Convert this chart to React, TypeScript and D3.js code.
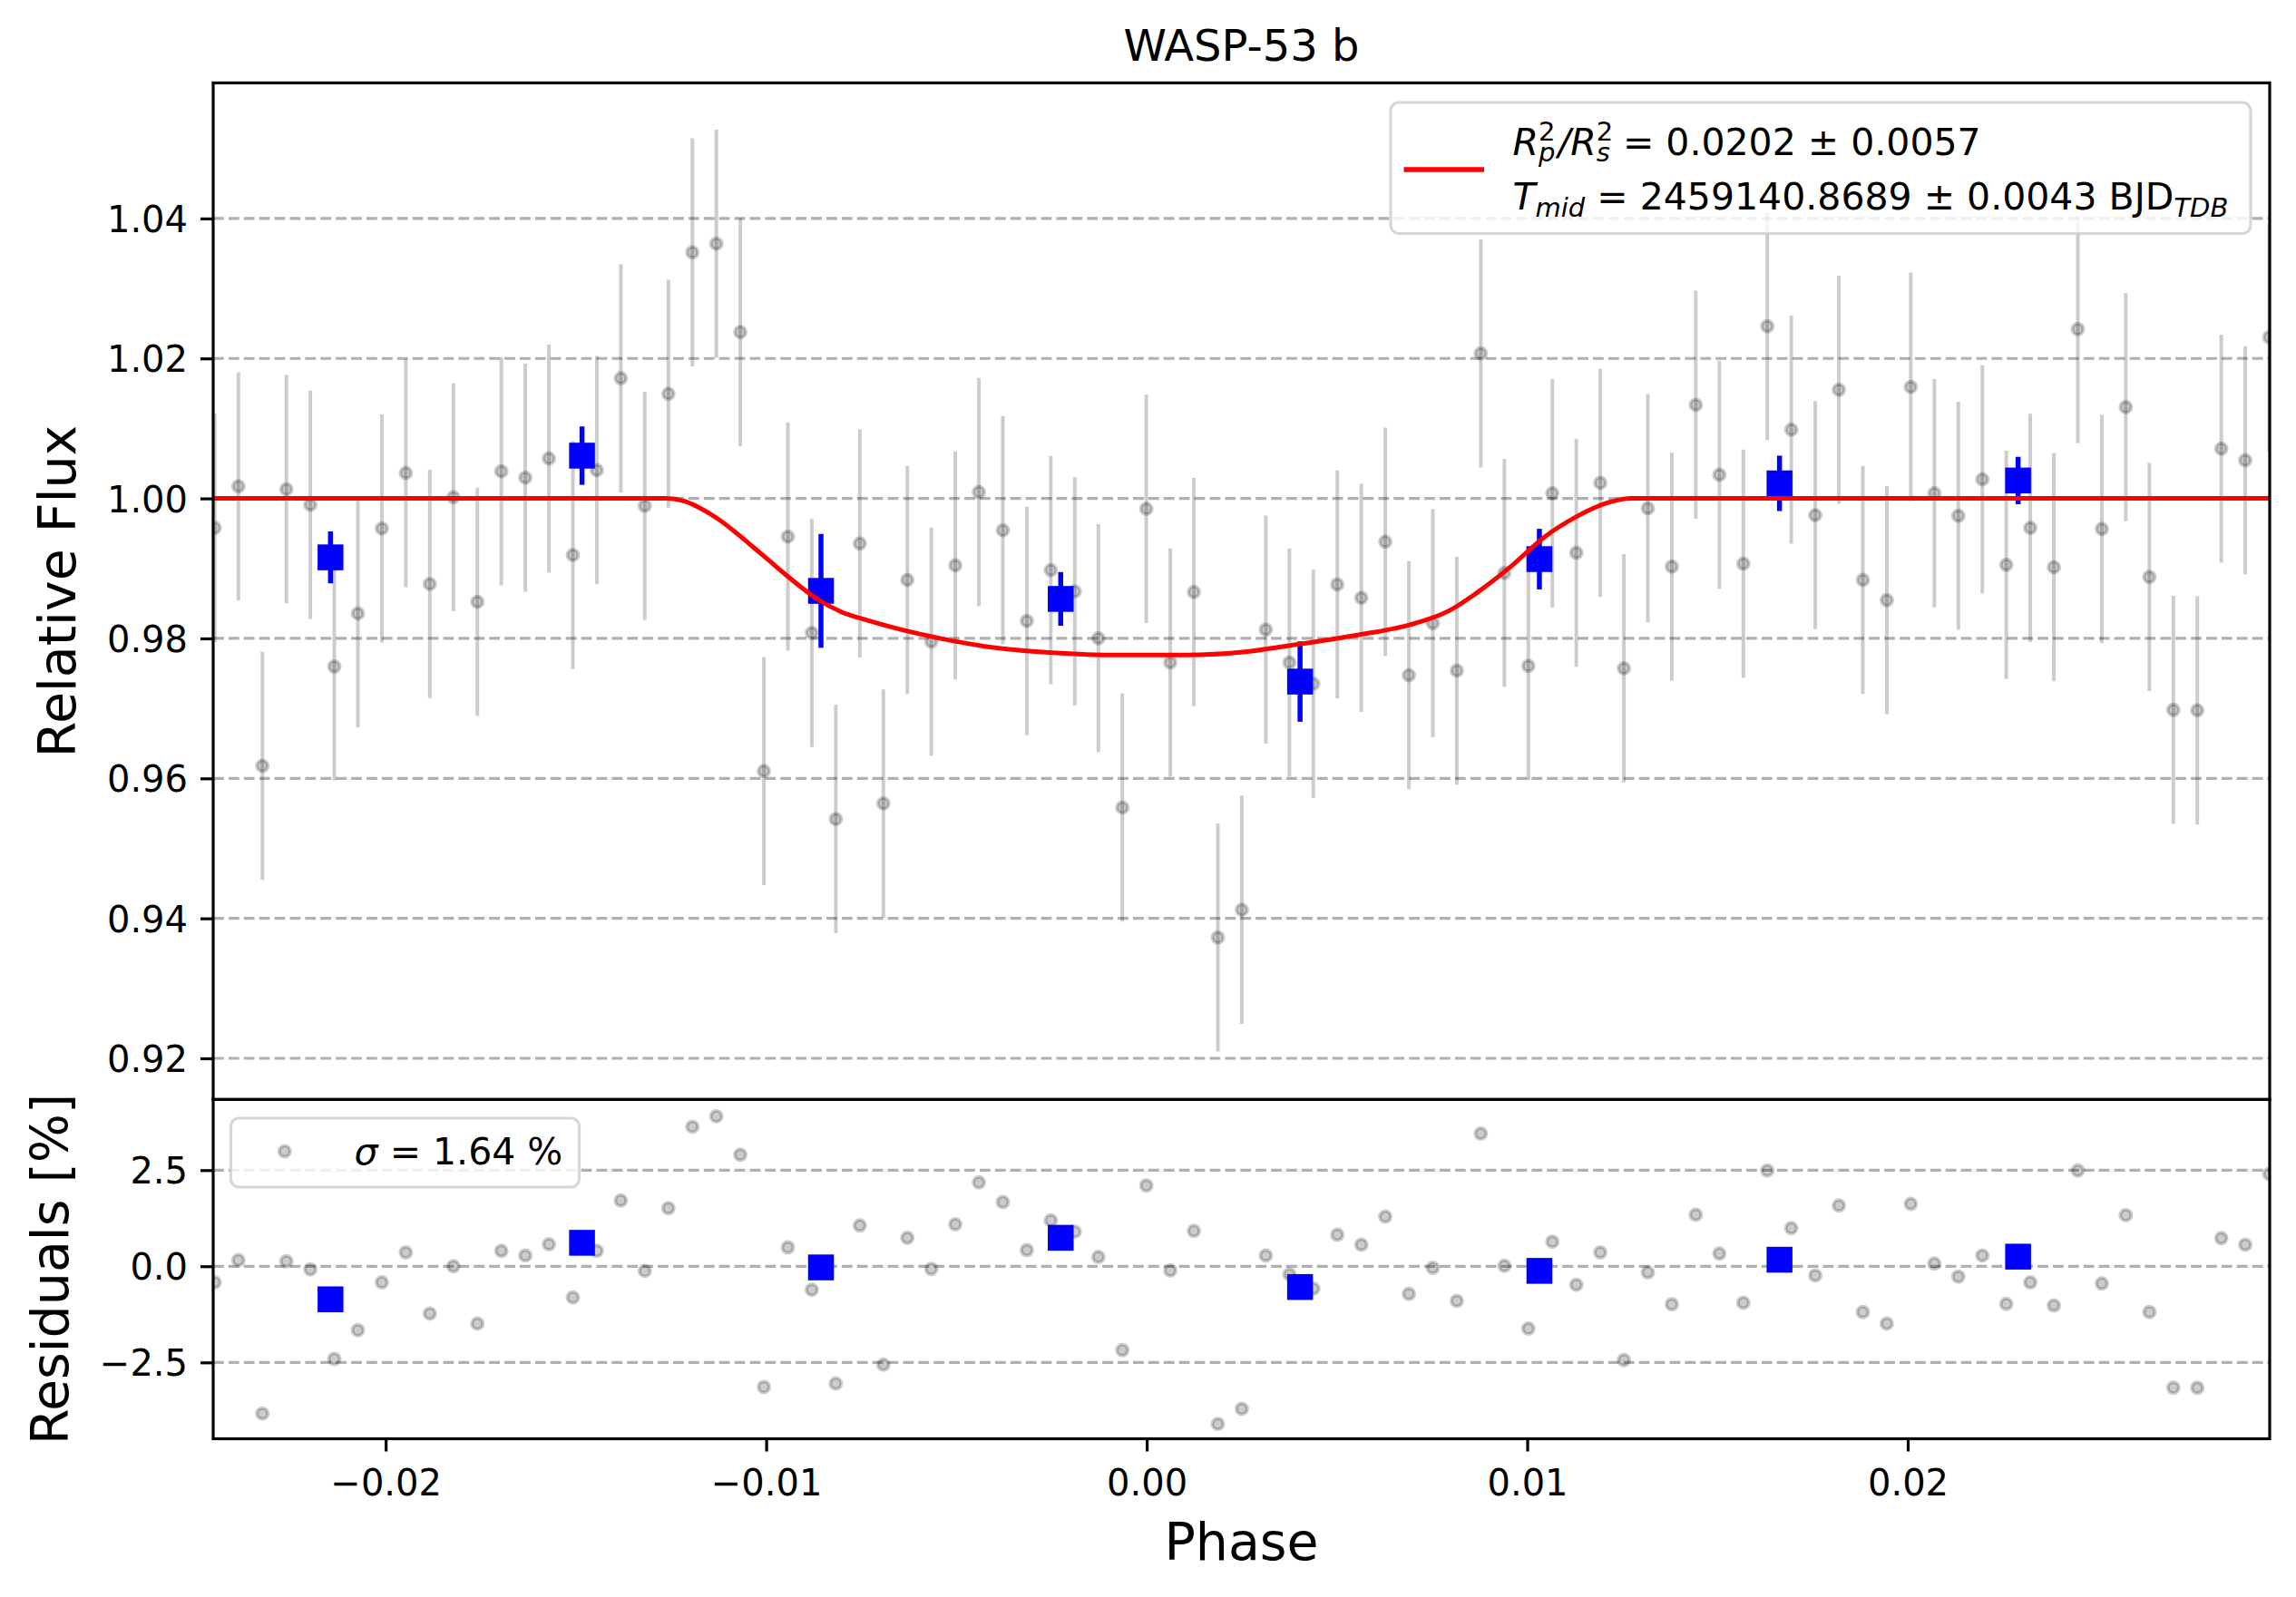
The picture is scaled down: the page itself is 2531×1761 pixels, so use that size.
import { useEffect, useRef } from 'react';
import * as d3 from 'd3';

// orbital phase of every unbinned exposure
const PHASE = [
  -0.02449, -0.02387, -0.02324, -0.02261, -0.02198, -0.02135, -0.02073, -0.0201, -0.01947, -0.01884,
  -0.01822, -0.01759, -0.01696, -0.01633, -0.01571, -0.01508, -0.01445, -0.01382, -0.01319, -0.01257,
  -0.01194, -0.01131, -0.01068, -0.01006, -0.00943, -0.0088, -0.00817, -0.00754, -0.00692, -0.00629,
  -0.00566, -0.00503, -0.00441, -0.00378, -0.00315, -0.00252, -0.00189, -0.00127, -0.00064, -0.00001,
  0.00062, 0.00124, 0.00187, 0.0025, 0.00313, 0.00375, 0.00438, 0.00501, 0.00564, 0.00627,
  0.00689, 0.00752, 0.00815, 0.00878, 0.0094, 0.01003, 0.01066, 0.01129, 0.01192, 0.01254,
  0.01317, 0.0138, 0.01443, 0.01505, 0.01568, 0.01631, 0.01694, 0.01757, 0.01819, 0.01882,
  0.01945, 0.02008, 0.0207, 0.02133, 0.02196, 0.02259, 0.02322, 0.02384, 0.02447, 0.0251,
  0.02573, 0.02635, 0.02698, 0.02761, 0.02824, 0.02887, 0.0295,
];

const FLUX = [
  0.99579, 1.00173, 0.96178, 1.00132, 0.99909, 0.97598, 0.98357, 0.99571, 1.00363, 0.98778,
  1.00017, 0.98522, 1.00388, 1.00297, 1.0057, 0.99191, 1.00404, 1.01717, 0.99893, 1.01494,
  1.03516, 1.0364, 1.02377, 0.96104, 0.99455, 0.98077, 0.95419, 0.99356, 0.95642, 0.98836,
  0.97953, 0.99043, 1.00091, 0.99546, 0.9825, 0.98976, 0.98671, 0.98002, 0.95584, 0.99851,
  0.97656, 0.98663, 0.93727, 0.94123, 0.98126, 0.97656, 0.9735, 0.9877, 0.9858, 0.99381,
  0.97474, 0.98217, 0.9754, 1.02072, 0.98935, 0.97606, 1.00074, 0.99224, 1.00223, 0.97573,
  0.9986, 0.99026, 1.01337, 1.00338, 0.99067, 1.0246, 1.00982, 0.99761, 1.01552, 0.98836,
  0.98547, 1.01593, 1.00074, 0.99752, 1.00272, 0.99051, 0.99579, 0.99018, 1.02418, 0.99563,
  1.01304, 0.98877, 0.96979, 0.96971, 1.0071, 1.00545, 1.02303,
];

const FLUX_ERR = 0.0163;

// residuals in percent
const RESID = [
  -0.42, 0.16, -3.83, 0.13, -0.08, -2.41, -1.66, -0.42, 0.36, -1.23,
  0.0, -1.49, 0.4, 0.28, 0.57, -0.81, 0.4, 1.71, -0.12, 1.51,
  3.63, 3.9, 2.9, -3.14, 0.49, -0.61, -3.05, 1.06, -2.56, 0.74,
  -0.07, 1.09, 2.18, 1.67, 0.42, 1.19, 0.9, 0.24, -2.18, 2.1,
  -0.11, 0.92, -4.1, -3.71, 0.28, -0.21, -0.58, 0.82, 0.56, 1.29,
  -0.72, -0.04, -0.9, 3.45, 0.01, -1.62, 0.64, -0.48, 0.36, -2.44,
  -0.16, -0.99, 1.34, 0.33, -0.95, 2.49, 0.99, -0.24, 1.58, -1.19,
  -1.49, 1.62, 0.07, -0.27, 0.28, -0.98, -0.42, -1.02, 2.49, -0.45,
  1.33, -1.19, -3.16, -3.16, 0.73, 0.56, 2.4,
];

// binned points (blue)
const BIN_PHASE = [-0.02145, -0.01484, -0.00856, -0.00226, 0.00403, 0.01032, 0.01663, 0.0229];
const BIN_FLUX = [0.99158, 1.00611, 0.98679, 0.98564, 0.97383, 0.99133, 1.00215, 1.00256];
const BIN_ERR = [0.00371, 0.00417, 0.00813, 0.00384, 0.00574, 0.00433, 0.00396, 0.00338];
const BIN_RESID = [-0.86, 0.61, -0.03, 0.74, -0.54, -0.12, 0.17, 0.25];

// transit model
const MODEL_PHASE = [
  -0.02453, -0.01265, -0.01215, -0.01173, -0.0113, -0.01087, -0.01042, -0.00997, -0.00953, -0.00909,
  -0.00865, -0.00804, -0.00733, -0.00601, -0.00425, -0.00248, -0.00072, 0.00105, 0.00252, 0.00381,
  0.00557, 0.0069, 0.00796, 0.00866, 0.00955, 0.01043, 0.01131, 0.01219, 0.01272, 0.02951,
];
const MODEL_FLUX = [
  1.0, 1.0, 0.9996, 0.9986, 0.9972, 0.99545, 0.9934, 0.99135, 0.9893, 0.98735,
  0.9856, 0.98382, 0.98258, 0.98069, 0.97887, 0.97796, 0.97763, 0.97763, 0.97804, 0.97903,
  0.98052, 0.98192, 0.98399, 0.98646, 0.99018, 0.99439, 0.99744, 0.9995, 1.0, 1.0,
];

const X_TICKS = [-0.02, -0.01, 0.0, 0.01, 0.02];
const FLUX_TICKS = [0.92, 0.94, 0.96, 0.98, 1.0, 1.02, 1.04];
const RESID_TICKS = [-2.5, 0.0, 2.5];

const TITLE = 'WASP-53 b';
const SIGMA_LABEL = '1.64 %';

const W = 2531;
const H = 1761;
const LEFT = 235;
const RIGHT = 2502;
const TOP = 91.4;
const MID = 1212.4;
const BOTTOM = 1586.5;
const FONT = "'DejaVu Sans', sans-serif";

export default function App() {
  const svgRef = useRef<SVGSVGElement>(null);

  useEffect(() => {
    if (!svgRef.current) return;
    document.body.style.margin = '0';
    const svg = d3.select(svgRef.current);
    svg.selectAll('*').remove();

    const x = d3.scaleLinear().domain([-0.024533, 0.029512]).range([LEFT, RIGHT]);
    const yTop = d3.scaleLinear().domain([0.91412, 1.05937]).range([MID, TOP]);
    const yRes = d3.scaleLinear().domain([-4.486, 4.337]).range([BOTTOM, MID]);

    svg.append('rect').attr('width', W).attr('height', H).attr('fill', 'white');

    const defs = svg.append('defs');
    defs.append('clipPath').attr('id', 'clip-top')
      .append('rect').attr('x', LEFT).attr('y', TOP).attr('width', RIGHT - LEFT).attr('height', MID - TOP);
    defs.append('clipPath').attr('id', 'clip-res')
      .append('rect').attr('x', LEFT).attr('y', MID).attr('width', RIGHT - LEFT).attr('height', BOTTOM - MID);

    const grid = (ticks: number[], y: d3.ScaleLinear<number, number>) => {
      svg.append('g')
        .selectAll('line')
        .data(ticks)
        .enter()
        .append('line')
        .attr('x1', LEFT)
        .attr('x2', RIGHT)
        .attr('y1', (d) => y(d))
        .attr('y2', (d) => y(d))
        .attr('stroke', '#b0b0b0')
        .attr('stroke-width', 3.2)
        .attr('stroke-dasharray', '11.8 5.1');
    };
    grid(FLUX_TICKS, yTop);
    grid(RESID_TICKS, yRes);

    // ---- top panel ----
    const top = svg.append('g').attr('clip-path', 'url(#clip-top)');
    top.append('g')
      .selectAll('line')
      .data(PHASE)
      .enter()
      .append('line')
      .attr('x1', (d) => x(d))
      .attr('x2', (d) => x(d))
      .attr('y1', (_, i) => yTop(FLUX[i] - FLUX_ERR))
      .attr('y2', (_, i) => yTop(FLUX[i] + FLUX_ERR))
      .attr('stroke', 'black')
      .attr('stroke-opacity', 0.2)
      .attr('stroke-width', 4);
    top.append('g')
      .selectAll('circle')
      .data(PHASE)
      .enter()
      .append('circle')
      .attr('cx', (d) => x(d))
      .attr('cy', (_, i) => yTop(FLUX[i]))
      .attr('r', 6)
      .attr('fill', 'black')
      .attr('fill-opacity', 0.2)
      .attr('stroke', 'black')
      .attr('stroke-opacity', 0.2)
      .attr('stroke-width', 4);

    top.append('g')
      .selectAll('line')
      .data(BIN_PHASE)
      .enter()
      .append('line')
      .attr('x1', (d) => x(d))
      .attr('x2', (d) => x(d))
      .attr('y1', (_, i) => yTop(BIN_FLUX[i] - BIN_ERR[i]))
      .attr('y2', (_, i) => yTop(BIN_FLUX[i] + BIN_ERR[i]))
      .attr('stroke', 'blue')
      .attr('stroke-width', 5.5);
    top.append('g')
      .selectAll('rect')
      .data(BIN_PHASE)
      .enter()
      .append('rect')
      .attr('x', (d) => x(d) - 14.25)
      .attr('y', (_, i) => yTop(BIN_FLUX[i]) - 14.25)
      .attr('width', 28.5)
      .attr('height', 28.5)
      .attr('fill', 'blue');

    const model = d3
      .line<number>()
      .x((d) => x(d))
      .y((_, i) => yTop(MODEL_FLUX[i]))
      .curve(d3.curveMonotoneX);
    top.append('path')
      .datum(MODEL_PHASE)
      .attr('d', model)
      .attr('fill', 'none')
      .attr('stroke', 'red')
      .attr('stroke-width', 5)
      .attr('stroke-linejoin', 'round');

    // ---- residual panel ----
    const res = svg.append('g').attr('clip-path', 'url(#clip-res)');
    res.append('g')
      .selectAll('circle')
      .data(PHASE)
      .enter()
      .append('circle')
      .attr('cx', (d) => x(d))
      .attr('cy', (_, i) => yRes(RESID[i]))
      .attr('r', 6)
      .attr('fill', 'black')
      .attr('fill-opacity', 0.2)
      .attr('stroke', 'black')
      .attr('stroke-opacity', 0.2)
      .attr('stroke-width', 4);
    res.append('g')
      .selectAll('rect')
      .data(BIN_PHASE)
      .enter()
      .append('rect')
      .attr('x', (d) => x(d) - 14.25)
      .attr('y', (_, i) => yRes(BIN_RESID[i]) - 14.25)
      .attr('width', 28.5)
      .attr('height', 28.5)
      .attr('fill', 'blue');

    // ---- axes ----
    const styleAxis = (g: d3.Selection<SVGGElement, unknown, null, undefined>) => {
      g.select('.domain').remove();
      g.selectAll('.tick line').attr('stroke', 'black').attr('stroke-width', 3.2);
      g.selectAll('.tick text')
        .attr('fill', 'black')
        .attr('font-family', FONT)
        .attr('font-size', 40);
    };
    const yAxisTop = svg.append('g')
      .attr('transform', `translate(${LEFT},0)`)
      .call(d3.axisLeft(yTop).tickValues(FLUX_TICKS).tickFormat(d3.format('.2f')).tickSize(14).tickPadding(14));
    styleAxis(yAxisTop);
    yAxisTop.selectAll('.tick text').attr('dy', '0.36em');

    const yAxisRes = svg.append('g')
      .attr('transform', `translate(${LEFT},0)`)
      .call(d3.axisLeft(yRes).tickValues(RESID_TICKS).tickFormat(d3.format('.1f')).tickSize(14).tickPadding(14));
    styleAxis(yAxisRes);
    yAxisRes.selectAll('.tick text').attr('dy', '0.36em');

    const xAxis = svg.append('g')
      .attr('transform', `translate(0,${BOTTOM})`)
      .call(d3.axisBottom(x).tickValues(X_TICKS).tickFormat(d3.format('.2f')).tickSize(14));
    styleAxis(xAxis);
    xAxis.selectAll('.tick text').attr('y', 62.5).attr('dy', 0);

    // spines
    [
      [TOP, MID],
      [MID, BOTTOM],
    ].forEach(([y0, y1]) => {
      svg.append('rect')
        .attr('x', LEFT)
        .attr('y', y0)
        .attr('width', RIGHT - LEFT)
        .attr('height', y1 - y0)
        .attr('fill', 'none')
        .attr('stroke', 'black')
        .attr('stroke-width', 3.2);
    });

    // ---- legends ----
    const legTop = svg.append('g');
    legTop.append('rect')
      .attr('x', 1533)
      .attr('y', 113)
      .attr('width', 948)
      .attr('height', 144.5)
      .attr('rx', 9)
      .attr('fill', 'white')
      .attr('fill-opacity', 0.8)
      .attr('stroke', '#cccccc')
      .attr('stroke-opacity', 0.8)
      .attr('stroke-width', 3.2);
    legTop.append('line')
      .attr('x1', 1547.5)
      .attr('x2', 1636)
      .attr('y1', 187)
      .attr('y2', 187)
      .attr('stroke', 'red')
      .attr('stroke-width', 5.5);

    // R_p^2 / R_s^2 : superscript stacked over subscript
    const l1 = legTop.append('text')
      .attr('x', 1667.5)
      .attr('y', 170.6)
      .attr('font-family', FONT)
      .attr('font-size', 41)
      .attr('fill', 'black');
    l1.append('tspan').attr('font-style', 'italic').text('R');
    l1.append('tspan').attr('font-size', 29).attr('dy', -15.6).text('2');
    l1.append('tspan').attr('font-size', 29).attr('font-style', 'italic').attr('dx', -18.4).attr('dy', 23).text('p');
    l1.append('tspan').attr('dy', -7.4).attr('dx', 3).attr('font-style', 'italic').text('/R');
    l1.append('tspan').attr('font-size', 29).attr('dy', -15.6).text('2');
    l1.append('tspan').attr('font-size', 29).attr('font-style', 'italic').attr('dx', -18.4).attr('dy', 23).text('s');
    l1.append('tspan').attr('dy', -7.4).attr('dx', 14).text('= 0.0202 \u00b1 0.0057');

    const l2 = legTop.append('text')
      .attr('x', 1667.5)
      .attr('y', 230.6)
      .attr('font-family', FONT)
      .attr('font-size', 41)
      .attr('fill', 'black');
    l2.append('tspan').attr('font-style', 'italic').text('T');
    l2.append('tspan').attr('font-size', 29).attr('font-style', 'italic').attr('dy', 8).text('mid');
    l2.append('tspan').attr('dy', -8).text(' = 2459140.8689 \u00b1 0.0043 BJD');
    l2.append('tspan').attr('font-size', 29).attr('font-style', 'italic').attr('dy', 8).text('TDB');

    const legRes = svg.append('g');
    legRes.append('rect')
      .attr('x', 254.5)
      .attr('y', 1233)
      .attr('width', 384)
      .attr('height', 76)
      .attr('rx', 9)
      .attr('fill', 'white')
      .attr('fill-opacity', 0.8)
      .attr('stroke', '#cccccc')
      .attr('stroke-opacity', 0.8)
      .attr('stroke-width', 3.2);
    legRes.append('circle')
      .attr('cx', 313.8)
      .attr('cy', 1269.6)
      .attr('r', 6)
      .attr('fill', 'black')
      .attr('fill-opacity', 0.2)
      .attr('stroke', 'black')
      .attr('stroke-opacity', 0.2)
      .attr('stroke-width', 4);
    const sig = legRes.append('text')
      .attr('x', 390.6)
      .attr('y', 1284.4)
      .attr('font-family', FONT)
      .attr('font-size', 41)
      .attr('fill', 'black');
    sig.append('tspan').attr('font-style', 'italic').text('\u03c3');
    sig.append('tspan').text(` = ${SIGMA_LABEL}`);

    // ---- titles ----
    svg.append('text')
      .attr('x', (LEFT + RIGHT) / 2)
      .attr('y', 67)
      .attr('text-anchor', 'middle')
      .attr('font-family', FONT)
      .attr('font-size', 48)
      .text(TITLE);
    svg.append('text')
      .attr('x', (LEFT + RIGHT) / 2)
      .attr('y', 1720)
      .attr('text-anchor', 'middle')
      .attr('font-family', FONT)
      .attr('font-size', 57)
      .text('Phase');
    svg.append('text')
      .attr('transform', `translate(83,${(TOP + MID) / 2}) rotate(-90)`)
      .attr('text-anchor', 'middle')
      .attr('font-family', FONT)
      .attr('font-size', 57)
      .text('Relative Flux');
    svg.append('text')
      .attr('transform', `translate(75,${(MID + BOTTOM) / 2}) rotate(-90)`)
      .attr('text-anchor', 'middle')
      .attr('font-family', FONT)
      .attr('font-size', 57)
      .text('Residuals [%]');
  }, []);

  return (
    <svg
      ref={svgRef}
      width={W}
      height={H}
      style={{ position: 'absolute', left: 0, top: 0, display: 'block' }}
    />
  );
}
